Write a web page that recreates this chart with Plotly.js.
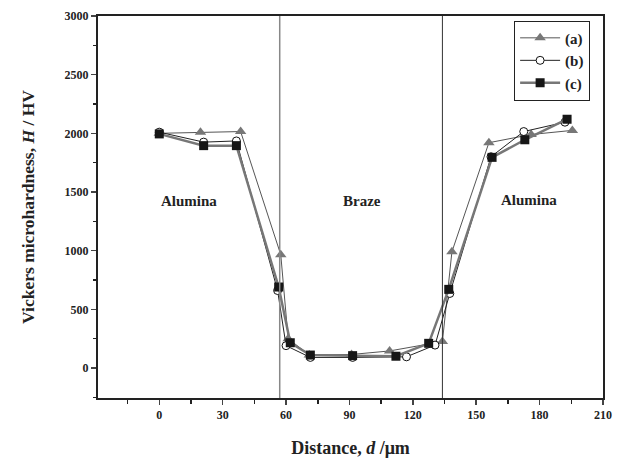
<!DOCTYPE html>
<html><head><meta charset="utf-8">
<script src="https://cdn.plot.ly/plotly-3.0.1.min.js"></script>
<style>body{margin:0;background:#fff}#c{width:629px;height:459px}</style>
</head><body><div id="c"></div>
<script>
const seriesNames = ["(a)", "(b)", "(c)"];
const xA = [0, 19.5, 38.5, 57.5, 61, 71, 91, 109, 134, 138.5, 156, 176, 195.5];
const yA = [2000, 2010, 2015, 965, 250, 110, 115, 145, 225, 990, 1920, 1990, 2025];
const xB = [0, 21, 36.5, 56, 60, 71.5, 91.5, 117, 130.5, 137.5, 157, 172.5, 192];
const yB = [2010, 1925, 1935, 660, 190, 90, 90, 95, 195, 635, 1800, 2015, 2095];
const xC = [0, 21, 36.5, 56.5, 62, 71.5, 91.5, 112, 127.5, 137, 157.5, 173, 193];
const yC = [1995, 1895, 1895, 690, 215, 110, 105, 100, 210, 670, 1795, 1945, 2120];
const boundaries = [57, 134];
const regionLabels = ["Alumina", "Braze", "Alumina"];
const regionX = [14, 96, 175];
const regionY = [1420, 1420, 1430];

const serif = "Liberation Serif, Times New Roman, serif";
const traces = [
  {x: xA, y: yA, name: seriesNames[0], mode: "lines+markers",
   line: {color: "#555", width: 1}, marker: {symbol: "triangle-up", size: 10, color: "#777"}},
  {x: xB, y: yB, name: seriesNames[1], mode: "lines+markers",
   line: {color: "#222", width: 1}, marker: {symbol: "circle", size: 8, color: "#fff", line: {color: "#111", width: 1}}},
  {x: xC, y: yC, name: seriesNames[2], mode: "lines+markers",
   line: {color: "#777", width: 2.5}, marker: {symbol: "square", size: 9, color: "#161616"}}
];
const shapes = boundaries.map((b, i) => ({type: "line", xref: "x", yref: "paper", x0: b, x1: b, y0: 0, y1: 1,
  line: {color: i === 0 ? "#888" : "#333", width: i === 0 ? 1.5 : 1}}));
const annotations = regionLabels.map((t, i) => ({x: regionX[i], y: regionY[i], xref: "x", yref: "y", text: "<b>" + t + "</b>",
  showarrow: false, font: {family: serif, size: 15, color: "#222"}}));
const layout = {
  width: 629, height: 459,
  margin: {l: 98, r: 26, t: 16, b: 61},
  paper_bgcolor: "#fff", plot_bgcolor: "#fff",
  font: {family: serif, color: "#222"},
  showlegend: true,
  legend: {x: 0.824, y: 0.988, xanchor: "left", yanchor: "top", bordercolor: "#222", borderwidth: 1,
    font: {family: serif, size: 15, color: "#222", weight: "bold"}, itemwidth: 40, tracegroupgap: 0, bgcolor: "#fff"},
  xaxis: {range: [-29, 210], tickvals: [0, 30, 60, 90, 120, 150, 180, 210], ticks: "outside", ticklen: 5, tickwidth: 1.5,
    minor: {dtick: 15, tick0: 0, ticks: "outside", ticklen: 4, tickwidth: 1.5, tickcolor: "#222"},
    showline: true, linewidth: 2, linecolor: "#222", mirror: true, showgrid: false, zeroline: false,
    tickfont: {family: serif, size: 12, color: "#222", weight: "bold"},
    title: {text: "<b>Distance, <i>d</i> /μm</b>", font: {family: serif, size: 18, color: "#222"}, standoff: 20}},
  yaxis: {range: [-256, 3000], dtick: 500, tick0: 0, ticks: "outside", ticklen: 5, tickwidth: 1.5,
    minor: {dtick: 250, ticks: "outside", ticklen: 3, tickwidth: 1.5, tickcolor: "#222"},
    showline: true, linewidth: 2, linecolor: "#222", mirror: true, showgrid: false, zeroline: false,
    tickfont: {family: serif, size: 12, color: "#222", weight: "bold"},
    title: {text: "<b>Vickers microhardness, <i>H</i> / HV</b>", font: {family: serif, size: 17.5, color: "#222"}, standoff: 25}},
  shapes: shapes, annotations: annotations
};
Plotly.newPlot("c", traces, layout, {displayModeBar: false, staticPlot: true});
</script></body></html>
